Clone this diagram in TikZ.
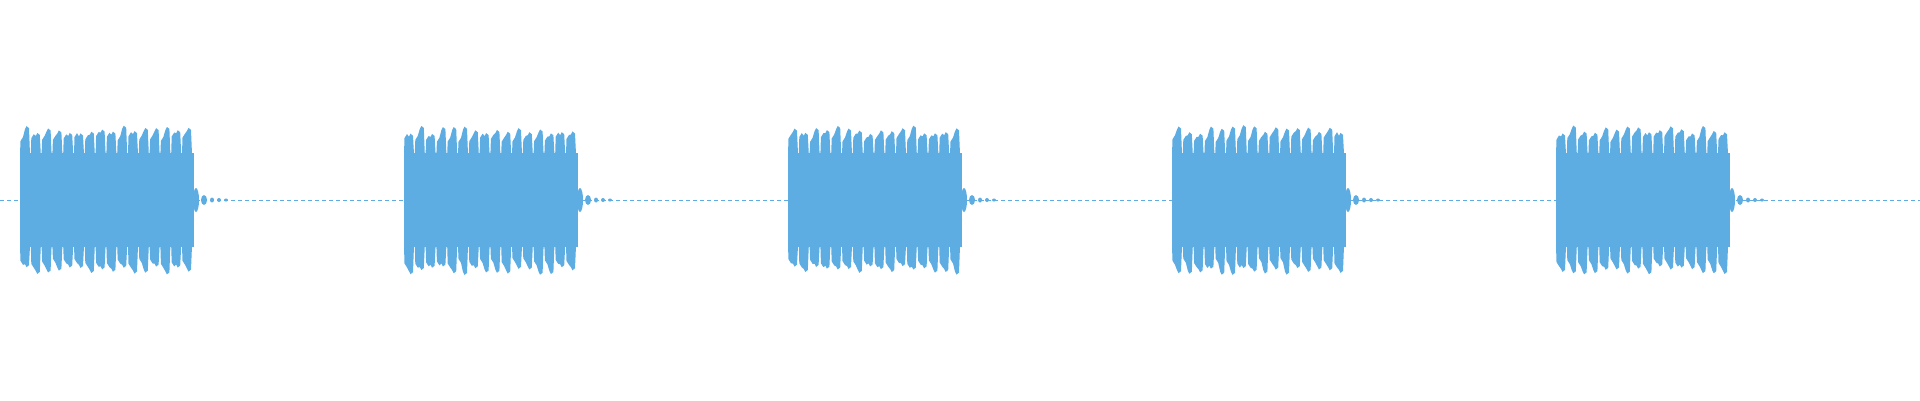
\documentclass[tikz,border=0pt]{standalone}
\begin{document}
\begin{tikzpicture}[x=1pt,y=-1pt]
\definecolor{wave}{RGB}{93,173,226}
\pgfmathsetseed{7}
\fill[white] (0,0) rectangle (1920,400);
\useasboundingbox (0,0) rectangle (1920,400);
\draw[wave,line width=0.6pt,dash pattern=on 4pt off 3pt] (0,200) -- (1920,200);
\foreach \s in {20,404,788,1172,1556}{
  \fill[wave] (\s,153) rectangle (\s+173,247);
  \foreach \k in {0,...,15}{
    \pgfmathsetmacro{\xa}{\s+\k*10.8}
    \pgfmathsetmacro{\pt}{66+9*rnd}
    \pgfmathsetmacro{\pb}{66+9*rnd}
    \pgfmathsetmacro{\mt}{58+6*rnd}
    \pgfmathsetmacro{\mb}{58+6*rnd}
    \fill[wave] (\xa,200) -- (\xa,200-46) -- (\xa+0.5,200-\mt) -- (\xa+3,200-\mt-4)
      -- (\xa+5,200-\pt+3) -- (\xa+6.5,200-\pt) -- (\xa+9,200-\pt+2) -- (\xa+10,200-46) -- (\xa+10,200)
      -- (\xa+10,200+46) -- (\xa+9,200+\pb-2) -- (\xa+6.5,200+\pb) -- (\xa+5,200+\pb-3)
      -- (\xa+3,200+\mb+4) -- (\xa+0.5,200+\mb) -- (\xa,200+46) -- cycle;
  }
  \fill[wave] (\s+172,153) rectangle (\s+174,247);
  \fill[wave] (\s+176,200) ellipse (3 and 12);
  \fill[wave] (\s+184,200) ellipse (3 and 5);
  \fill[wave] (\s+192,200) ellipse (2 and 2.5);
  \fill[wave] (\s+199,200) ellipse (2 and 2);
  \fill[wave] (\s+206,200) ellipse (2 and 1.5);
}
\end{tikzpicture}
\end{document}
